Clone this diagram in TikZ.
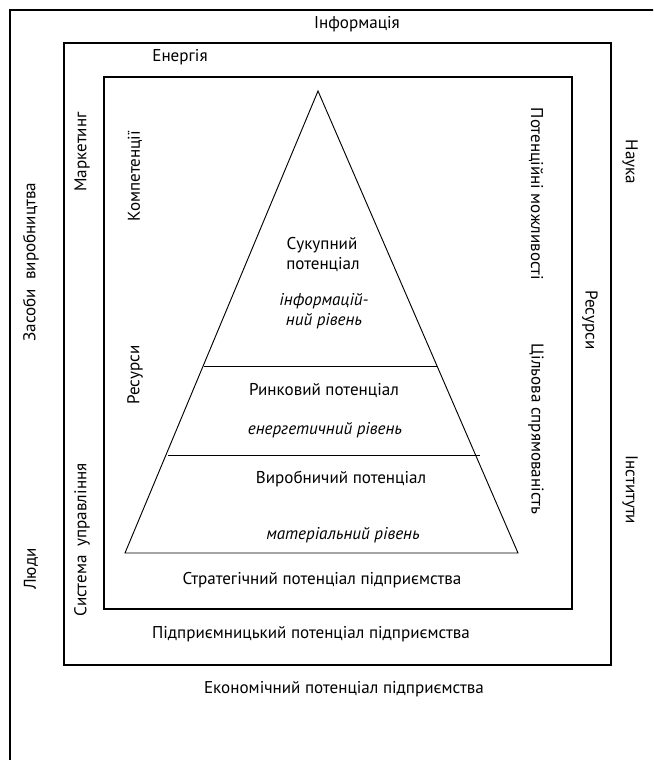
\documentclass[tikz,border=0pt]{standalone}
\usepackage{fontspec}
\setmainfont{PT Sans}
\begin{document}
\begin{tikzpicture}[x=0.75pt,y=-0.75pt,
  frame/.style={draw=black,line width=0.8pt},
  lbl/.style={font=\fontsize{12.8}{14}\selectfont,inner sep=1pt},
  ital/.style={font=\fontsize{12.8}{15}\selectfont\itshape,inner sep=1pt,align=center},
  up/.style={lbl,rotate=90},
  down/.style={lbl,rotate=-90}]
\useasboundingbox (0,0) rectangle (653,760);
\clip (0,0) rectangle (653,760);
\fill[white] (0,0) rectangle (653,760);
% frames
\draw[frame] (10,10) rectangle (680,800);
\draw[frame] (64,43) rectangle (611,665);
\draw[frame] (104,77) rectangle (572,609);
% pyramid
\coordinate (apex) at (318,91);
\coordinate (bl) at (125,553);
\coordinate (br) at (518,553);
\draw[line width=0.7pt] (bl) -- (apex) -- (br) -- cycle;
\coordinate (l1a) at (204,366);
\coordinate (l1b) at (437,366);
\coordinate (l2a) at (168,455);
\coordinate (l2b) at (480,455);
\draw[line width=0.7pt] (l1a) -- (l1b);
\draw[line width=0.7pt] (l2a) -- (l2b);
% pyramid texts
\node[lbl] (suk) at (322,245) {Сукупний};
\node[lbl] (pot) at (323,265) {потенціал};
\node[ital] (inf) at (324,311) {інформацій-\\ний рівень};
\node[lbl] (rynk) at (324,391) {Ринковий потенціал};
\node[ital] (energ) at (325,430) {енергетичний рівень};
\node[lbl] (vyr) at (341,479) {Виробничий потенціал};
\node[ital] (mat) at (343,535) {матеріальний рівень};
% bottom texts
\node[lbl] (strat) at (322,580) {Стратегічний потенціал підприємства};
\node[lbl] (pidpr) at (311,634) {Підприємницький потенціал підприємства};
\node[lbl] (ekon) at (344,689) {Економічний потенціал підприємства};
% top texts
\node[lbl] (infm) at (357,24) {Інформація};
\node[lbl] (energy) at (180,57) {Енергія};
% left rotated
\node[up] (zasoby) at (31,262) {Засоби\ \ виробництва};
\node[up] (lyudy) at (31,569) {Люди};
\node[up] (market) at (82,152) {Маркетинг};
\node[up] (syst) at (82,540) {Система\ \ управління};
\node[up] (komp) at (135,176) {Компетенції};
\node[up] (resl) at (135,375) {Ресурси};
% right rotated
\node[down] (pmozh) at (536,194) {Потенційні можливості};
\node[down] (cil) at (536,429) {Цільова спрямованість};
\node[down] (resr) at (590,320) {Ресурси};
\node[down] (nauka) at (630,162) {Наука};
\node[down] (inst) at (630,490) {Інститути};
\end{tikzpicture}
\end{document}
